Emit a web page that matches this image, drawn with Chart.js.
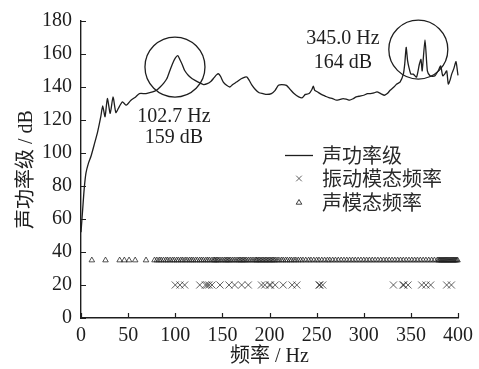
<!DOCTYPE html>
<html>
<head>
<meta charset="utf-8">
<script src="https://cdn.jsdelivr.net/npm/chart.js@4/dist/chart.umd.min.js"></script>
<style>
  html, body { margin: 0; padding: 0; background: #fff; }
  #c { display: block; }
</style>
</head>
<body>
<canvas id="c" width="479" height="369"></canvas>
<script>
// Sound power level spectrum (frequency in Hz, level in dB)
const powerFreq = [
  0, 1.8, 3.5, 5.3, 8, 10.6, 14, 17.7, 21, 23, 25.5, 28, 31, 34, 37, 40.5, 44, 48, 53, 58,
  62, 69, 76, 80, 84, 88, 91, 94, 97, 100, 102.7, 105, 107.5, 110, 114, 118, 121, 126, 130, 134,
  138, 141, 144, 146, 148, 151, 154.5, 158, 161, 165, 170, 174, 176, 178.5, 181, 185, 189, 193, 197, 202,
  206, 209.5, 213, 218, 222, 226, 231, 235, 238, 242, 245, 246.5, 248, 251, 255, 259, 263, 267, 271, 275,
  278, 282, 285, 289, 292, 296, 300, 304, 307, 311, 314, 318, 322, 325, 328, 332, 335, 338.5, 342, 343.5,
  345, 346.5, 348, 350, 352.6, 356, 359, 360.7, 362, 365, 367.5, 370.3, 373, 375.6, 379, 381.6, 383.8, 386, 388, 389.7,
  391.5, 393.3, 395.5, 397.9, 399.3, 400
];
const powerLevel = [
  52, 66, 79, 88, 94, 98, 105, 113, 122, 128.5, 122, 133, 124, 134, 124.5, 128, 131, 129, 132, 134,
  136, 136, 137, 138, 140, 142.5, 145, 149.5, 154, 157.5, 159, 156.5, 153.5, 150, 147, 145, 144, 142.5, 141.5, 142,
  143.5, 145.5, 147.5, 148, 146.5, 143, 141, 140, 141.5, 143, 145, 146, 146, 144, 141.5, 138.5, 136.5, 136, 135.5, 136,
  138, 141, 141.5, 141, 138.5, 136, 134, 133.5, 135.5, 136, 138.5, 140.5, 138, 137, 135.5, 134.5, 133.5, 133, 132, 132.5,
  133, 132.5, 132, 133, 134, 134.5, 135, 136, 136, 136.5, 137, 136, 135, 136, 138, 140, 141.8, 143, 147.8, 154,
  164, 156, 151.8, 147.8, 147.8, 146, 153.8, 156.7, 149.8, 168.6, 149.8, 146.8, 146.5, 146.8, 149.8, 152.7, 146.8, 148, 149.8, 141.8,
  144, 147.8, 151, 155.4, 150, 147
];

// Structural (vibration) mode frequencies, plotted on the 20 dB row
const vibModeFreq = [
  100, 105, 110, 126, 132, 134, 136, 139, 147.5, 157, 163, 170.5, 177.5, 191.5, 195, 200, 201, 206, 214.5, 224,
  229, 252.5, 253.5, 256.5, 331.5, 341.5, 342.5, 347, 361.5, 366, 371, 388, 393
];
const vibModeRow = 20;

// Acoustic mode frequencies, plotted on the 35 dB row
const acousticModeFreq = [
  11.5, 26, 41, 46, 51, 57.5, 69,
  78, 80.5, 83, 85, 87.5, 90, 92, 94.5, 97, 99, 101.5, 103.5, 106, 108, 110.5, 112.5, 115, 117, 119, 121.5,
  123.5, 126, 128, 130, 132.5, 134.5, 136.5, 139, 141, 142, 143.5, 145, 146.5, 148.5, 150.5, 152.5, 154, 155.5,
  157, 158.5, 160.5, 162.5, 164.5, 166.5, 168, 169.5, 171, 172.5, 174, 175.5, 177.5, 179.5, 181.5, 183.5, 185.5,
  186.5, 188, 189.5, 191, 192.5, 194, 195.5, 197, 198.5, 200, 201.5, 203, 204.5, 206, 208, 210, 212.5, 214.5,
  217, 219, 221.5, 223.5, 226, 228, 230.5, 233, 235.5, 238.5, 241.5, 244, 247, 250, 252.5, 255.5, 258.5, 261.5,
  264, 267, 270, 273, 276, 279, 282, 285, 288, 291, 294, 297, 300, 303, 306, 309, 312, 315, 318, 321, 324, 327,
  330, 333, 336, 339, 342, 345, 348, 351, 354, 357, 360, 363, 366, 369, 372, 375, 378,
  379.5, 380.5, 381.5, 382.5, 383.5, 384.5, 385.5, 386.5, 387.5, 388.5, 389.5, 390.5, 391.5, 392.5, 393.5,
  394.5, 395.5, 396.5, 397.5, 398.5, 399.5
];
const acousticModeRow = 35;

// Axis ticks
const xTicks = [0, 50, 100, 150, 200, 250, 300, 350, 400];
const yTicks = [0, 20, 40, 60, 80, 100, 120, 140, 160, 180];

// Highlighted peaks
const peakFreq = [102.7, 345.0];
const peakLevel = [159, 164];

const SERIF = '"Liberation Serif", "Times New Roman", serif';
const TITLE_FONT = '"Liberation Serif", "Noto Sans CJK SC", serif';
const CJK_SANS = '"Noto Sans CJK SC", "Noto Sans", sans-serif';
const INK = '#1e1e1e';

// Circles and text blocks around the peaks (anchors in data units, radius in px)
const peakCallouts = [
  { cx: 99.7, cy: 152.1, r: 30, tx: 98.7, ty1: 119.0, ty2: 106.1 },
  { cx: 357.9, cy: 162.7, r: 29.5, tx: 278, ty1: 166.1, ty2: 151.8 }
];

const innerTicks = {
  id: 'innerTicks',
  afterDraw(chart) {
    const { ctx, chartArea: a, scales: { x, y } } = chart;
    ctx.save();
    ctx.strokeStyle = INK;
    ctx.lineWidth = 1.2;
    ctx.beginPath();
    xTicks.forEach(v => {
      const px = Math.round(x.getPixelForValue(v)) + 0.5;
      ctx.moveTo(px, a.bottom); ctx.lineTo(px, a.bottom - 5);
    });
    yTicks.forEach(v => {
      const py = Math.round(y.getPixelForValue(v)) + 0.5;
      ctx.moveTo(a.left, py); ctx.lineTo(a.left + 5, py);
    });
    ctx.stroke();
    ctx.restore();
  }
};

const callouts = {
  id: 'callouts',
  afterDatasetsDraw(chart) {
    const { ctx, scales: { x, y } } = chart;
    ctx.save();
    ctx.strokeStyle = INK;
    ctx.fillStyle = INK;
    ctx.lineWidth = 1.3;
    ctx.font = '20px ' + SERIF;
    ctx.textAlign = 'center';
    ctx.textBaseline = 'alphabetic';
    peakCallouts.forEach((c, i) => {
      ctx.beginPath();
      ctx.arc(x.getPixelForValue(c.cx), y.getPixelForValue(c.cy), c.r, 0, Math.PI * 2);
      ctx.stroke();
      const tx = x.getPixelForValue(c.tx);
      ctx.fillText(peakFreq[i].toFixed(1) + ' Hz', tx, y.getPixelForValue(c.ty1));
      ctx.fillText(peakLevel[i] + ' dB', tx, y.getPixelForValue(c.ty2));
    });
    ctx.restore();
  }
};

const legendBox = {
  id: 'legendBox',
  afterDraw(chart) {
    const { ctx } = chart;
    const rows = [155, 178.5, 202];
    const symX = 299, textX = 322;
    ctx.save();
    ctx.font = '20px ' + CJK_SANS;
    ctx.textBaseline = 'middle';
    ctx.textAlign = 'left';
    chart.data.datasets.forEach((ds, i) => {
      const yy = rows[i];
      ctx.strokeStyle = ds.borderColor;
      ctx.lineWidth = 1.3;
      if (i === 0) {
        ctx.beginPath(); ctx.moveTo(285, yy + 0.5); ctx.lineTo(313, yy + 0.5); ctx.stroke();
      } else if (i === 1) {
        ctx.lineWidth = 1;
        ctx.beginPath();
        ctx.moveTo(symX - 2.8, yy - 2.8); ctx.lineTo(symX + 2.8, yy + 2.8);
        ctx.moveTo(symX - 2.8, yy + 2.8); ctx.lineTo(symX + 2.8, yy - 2.8);
        ctx.stroke();
      } else {
        ctx.lineWidth = 1;
        ctx.beginPath();
        ctx.moveTo(symX, yy - 2.5); ctx.lineTo(symX + 2.8, yy + 2.2); ctx.lineTo(symX - 2.8, yy + 2.2);
        ctx.closePath(); ctx.stroke();
      }
      ctx.fillStyle = '#2a2a2a';
      ctx.fillText(ds.label, textX, yy);
    });
    ctx.restore();
  }
};

const ctx = document.getElementById('c').getContext('2d');
new Chart(ctx, {
  type: 'scatter',
  data: {
    datasets: [
      {
        label: '声功率级',
        data: powerFreq.map((f, i) => ({ x: f, y: powerLevel[i] })),
        showLine: true,
        borderColor: INK,
        borderWidth: 1.3,
        pointRadius: 0,
        tension: 0.2,
        clip: false,
        order: 0
      },
      {
        label: '振动模态频率',
        data: vibModeFreq.map(f => ({ x: f, y: vibModeRow })),
        pointStyle: 'crossRot',
        pointRadius: 5,
        borderColor: 'rgba(40,40,40,0.72)',
        backgroundColor: 'rgba(0,0,0,0)',
        borderWidth: 1,
        clip: false,
        order: 1
      },
      {
        label: '声模态频率',
        data: acousticModeFreq.map(f => ({ x: f, y: acousticModeRow })),
        pointStyle: 'triangle',
        pointRadius: 3.2,
        borderColor: 'rgba(30,30,30,0.85)',
        backgroundColor: 'rgba(255,255,255,0)',
        borderWidth: 0.9,
        clip: false,
        order: 2
      }
    ]
  },
  options: {
    responsive: false,
    animation: false,
    devicePixelRatio: 1,
    layout: { padding: { top: 16, right: 21, left: 0, bottom: 0 } },
    plugins: { legend: { display: false }, tooltip: { enabled: false } },
    scales: {
      x: {
        type: 'linear',
        min: 0, max: 400,
        afterBuildTicks: s => { s.ticks = xTicks.map(v => ({ value: v })); },
        afterFit: s => { s.height = 51; },
        grid: { display: false, drawTicks: false },
        border: { display: true, color: INK, width: 1.4 },
        ticks: { color: INK, font: { family: SERIF, size: 20 }, padding: 6, maxRotation: 0, autoSkip: false },
        title: { display: true, text: '频率 / Hz', color: INK, font: { family: TITLE_FONT, size: 20 }, padding: { top: 0, bottom: 0 } }
      },
      y: {
        type: 'linear',
        min: 0, max: 180,
        afterBuildTicks: s => { s.ticks = yTicks.map(v => ({ value: v })); },
        afterFit: s => { s.width = 81; },
        grid: { display: false, drawTicks: false },
        border: { display: true, color: INK, width: 1.4 },
        ticks: { color: INK, font: { family: SERIF, size: 20 }, padding: 9, autoSkip: false },
        title: { display: true, text: '声功率级 / dB', color: INK, font: { family: TITLE_FONT, size: 20 }, padding: { top: 15, bottom: 0 } }
      }
    }
  },
  plugins: [innerTicks, callouts, legendBox]
});
</script>
</body>
</html>
